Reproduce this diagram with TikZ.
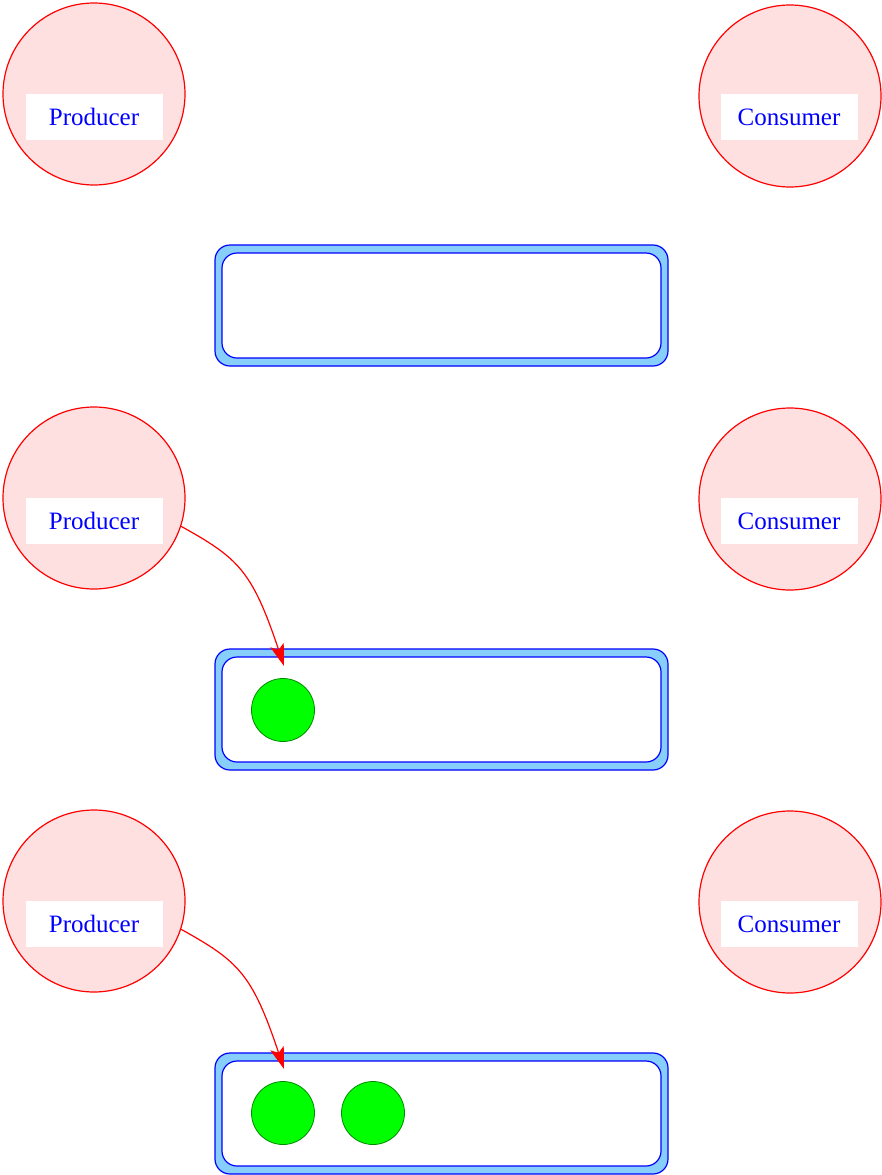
\documentclass[tikz,border=0pt]{standalone}
\usepackage{fontspec}
\setmainfont{Liberation Serif}
\usetikzlibrary{arrows.meta}
\definecolor{pinkfill}{RGB}{255,224,224}
\definecolor{skyfill}{RGB}{135,206,250}
\definecolor{darkgreen}{RGB}{0,140,0}
\tikzset{
  actor/.style={circle,draw=red,fill=pinkfill,line width=1.2pt,minimum size=182pt,inner sep=0pt},
  tag/.style={fill=white,text=blue,minimum width=137pt,minimum height=46pt,inner sep=0pt,font=\fontsize{25}{29}\selectfont},
  bufout/.style={draw=blue,fill=skyfill,line width=1.2pt,rounded corners=15pt,minimum width=453pt,minimum height=121pt,inner sep=0pt},
  bufin/.style={draw=blue,fill=white,line width=1.2pt,rounded corners=15pt,minimum width=439pt,minimum height=105pt,inner sep=0pt},
  item/.style={circle,draw=darkgreen,fill=green,line width=0.8pt,minimum size=63pt,inner sep=0pt},
  put/.style={draw=red,line width=1.2pt,-{Stealth[length=22pt,width=14pt,inset=5pt]}}
}
\begin{document}
\begin{tikzpicture}[x=1pt,y=-1pt]
\useasboundingbox (0,0) rectangle (882,1175);
% row 1
\node[actor] (p1) at (94,94) {};
\node[tag] (pl1) at (94,117) {Producer};
\node[actor] (c1) at (790,96) {};
\node[tag] (cl1) at (789,117) {Consumer};
\node[bufout] (bo1) at (441.5,305.5) {};
\node[bufin] (bi1) at (441.5,305.5) {};
% row 2
\node[actor] (p2) at (94,498) {};
\node[tag] (pl2) at (94,521) {Producer};
\node[actor] (c2) at (790,499) {};
\node[tag] (cl2) at (789,521) {Consumer};
\node[bufout] (bo2) at (441.5,709.5) {};
\node[bufin] (bi2) at (441.5,709.5) {};
\node[item] (g21) at (283,710) {};
\coordinate (t2) at (284,666);
\draw[put] (p2.-18) .. controls (238,558) and (252,570) .. (t2);
% row 3
\node[actor] (p3) at (94,901) {};
\node[tag] (pl3) at (94,924) {Producer};
\node[actor] (c3) at (790,902) {};
\node[tag] (cl3) at (789,924) {Consumer};
\node[bufout] (bo3) at (441.5,1113.5) {};
\node[bufin] (bi3) at (441.5,1113.5) {};
\node[item] (g31) at (283,1113) {};
\node[item] (g32) at (373,1113) {};
\coordinate (t3) at (284,1069);
\draw[put] (p3.-18) .. controls (238,961) and (252,973) .. (t3);
\end{tikzpicture}
\end{document}
